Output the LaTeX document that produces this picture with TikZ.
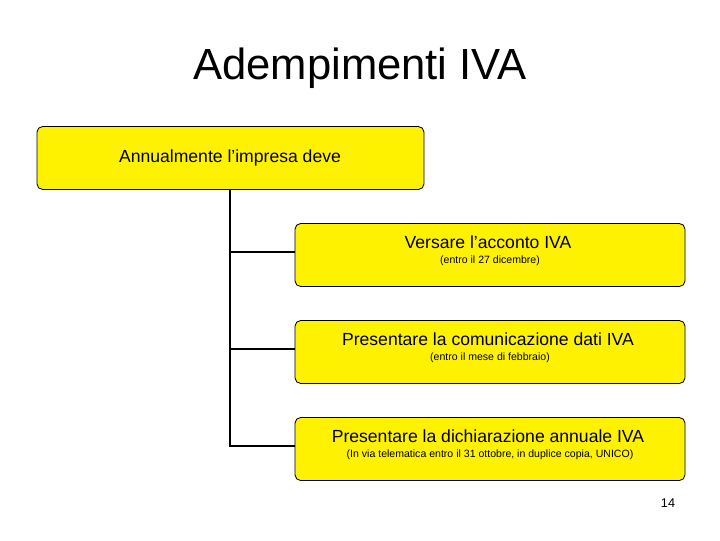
\documentclass[tikz,border=0pt]{standalone}
\usepackage{fontspec}
\setmainfont{Liberation Sans}
\usetikzlibrary{positioning}
\tikzset{
	boxiva/.style = {draw, fill = yellow, rounded corners = 4pt, minimum width = 390*0.025cm, minimum height = 63*0.025cm, line width = .6pt},
	linea/.style = {line width = 1.6pt}
}
\begin{document}
\begin{tikzpicture}[x = .025cm, y = -.025cm]
		\useasboundingbox (0,0) rectangle (720,540);
		\node (titolo) at (360,68) {\fontsize{31}{35}\selectfont Adempimenti IVA};
		
		\node [boxiva, minimum width = 387*0.025cm] (annuale) at (230.5,158) {};
		\node at (230,158) {\fontsize{12.5}{14}\selectfont Annualmente l’impresa deve};
		
		\foreach \n/\y/\testo/\nota in {
			acconto/255/Versare l’acconto IVA/(entro il 27 dicembre),
			comunicazione/352/Presentare la comunicazione dati IVA/(entro il mese di febbraio),
			dichiarazione/449/Presentare la dichiarazione annuale IVA/{(In via telematica entro il 31 ottobre, in duplice copia, UNICO)}}
		{
			\node [boxiva] (\n) at (490,\y) {};
			\node at (488,\y-13) {\fontsize{12.5}{14}\selectfont \testo};
			\node at (490,\y+6) {\fontsize{7.5}{9}\selectfont \nota};
			\draw [linea] (230,\y-3) -- (\n.west |- 0,\y-3); %ramo
		}
		\draw [linea] (annuale.south -| 230,0) -- (230,447); %tronco
		
		\node (pagina) at (668,503) {\fontsize{9}{11}\selectfont 14};
	\end{tikzpicture}
\end{document}
